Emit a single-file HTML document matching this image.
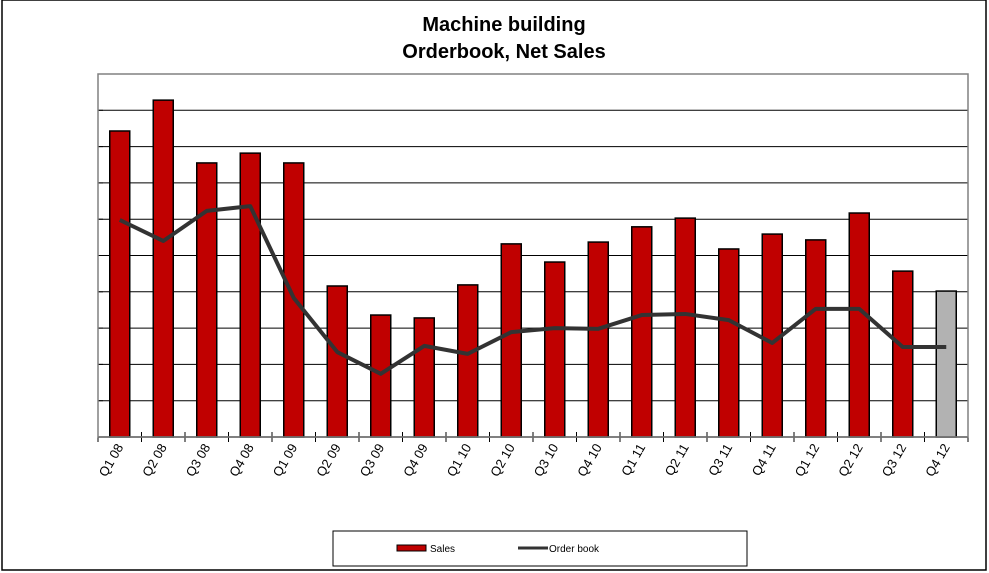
<!DOCTYPE html>
<html><head><meta charset="utf-8"><style>
body{margin:0;background:#fff;}
svg{display:block;font-family:"Liberation Sans",Arial,sans-serif;}
</style></head><body>
<svg width="989" height="573" viewBox="0 0 989 573">
<rect x="2" y="0" width="984" height="570" fill="#fff" stroke="#000" stroke-width="1.5"/>
<text x="504" y="31" text-anchor="middle" font-size="20" font-weight="bold">Machine building</text>
<text x="504" y="58" text-anchor="middle" font-size="20" font-weight="bold">Orderbook, Net Sales</text>
<g id="grid"></g><g id="bars"></g><g id="line"></g><g id="xaxis"></g>
<rect x="98" y="74" width="870" height="363" fill="none" stroke="#808080" stroke-width="1.5"/>
<g>
<rect x="333" y="531" width="414" height="35" fill="#fff" stroke="#000"/>
<rect x="397" y="545" width="29" height="6" fill="#c00000" stroke="#000"/>
<text x="430" y="552" font-size="10">Sales</text>
<line x1="518" y1="548" x2="548" y2="548" stroke="#333" stroke-width="3"/>
<text x="549" y="552" font-size="10">Order book</text>
</g>
</svg>
<script>
const categories=["Q1 08","Q2 08","Q3 08","Q4 08","Q1 09","Q2 09","Q3 09","Q4 09","Q1 10","Q2 10","Q3 10","Q4 10","Q1 11","Q2 11","Q3 11","Q4 11","Q1 12","Q2 12","Q3 12","Q4 12"];
const sales=[8.43,9.28,7.55,7.82,7.55,4.16,3.36,3.28,4.19,5.32,4.82,5.37,5.79,6.03,5.18,5.59,5.43,6.17,4.57,4.02];
const orderBook=[5.98,5.40,6.23,6.36,3.83,2.34,1.74,2.51,2.29,2.89,3.00,2.98,3.36,3.39,3.22,2.59,3.53,3.53,2.48,2.48];
const yTicks=[0,1,2,3,4,5,6,7,8,9,10];
const NS="http://www.w3.org/2000/svg";
const L=98,R=968,T=74,B=437,YMAX=10;
const slot=(R-L)/categories.length;
const y=v=>B-v/YMAX*(B-T);
const xc=i=>L+slot*(i+0.5);
function mk(tag,attrs,parent){const e=document.createElementNS(NS,tag);for(const k in attrs)e.setAttribute(k,attrs[k]);document.getElementById(parent).appendChild(e);return e;}
yTicks.forEach(t=>{
 const g=mk("line",{x1:L,x2:R,y1:y(t),y2:y(t),stroke:t===0?"#000":"#000","stroke-width":t===0?1.5:1},"grid");
 
 
 const tk=mk("line",{x1:L,x2:L+5,y1:y(t),y2:y(t),stroke:"#000"},"grid");
 
 
});
sales.forEach((v,i)=>{
 const last=i===sales.length-1;
 const b=mk("rect",{x:xc(i)-10,y:y(v),width:20,height:B-y(v),fill:last?"#b2b2b2":"#c00000",stroke:"#000","stroke-width":1.5},"bars");
 
 
});
const p=mk("polyline",{points:orderBook.map((v,i)=>xc(i)+","+y(v)).join(" "),fill:"none",stroke:"#333","stroke-width":4,"stroke-linejoin":"round"},"line");


for(let i=0;i<=categories.length;i++){
 const t=mk("line",{x1:L+slot*i,x2:L+slot*i,y1:B-5,y2:B+5,stroke:"#000"},"xaxis");
 
 
}
categories.forEach((c,i)=>{
 const x=xc(i)+4,yy=B+10;
 const t=mk("text",{x:x,y:yy,"font-size":13,"text-anchor":"end",transform:`rotate(-60 ${x} ${yy})`},"xaxis");
 t.textContent=c;
 
 
});
</script>
</body></html>
